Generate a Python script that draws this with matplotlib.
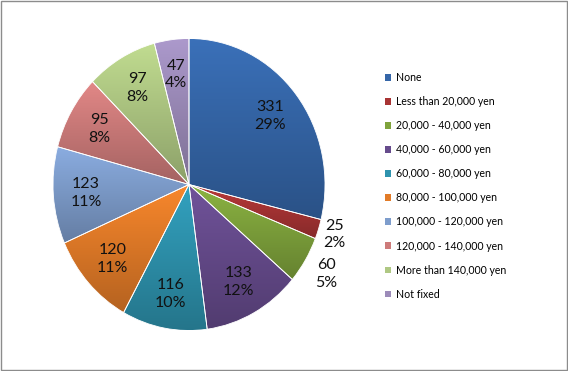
import numpy as np
import matplotlib
matplotlib.use('Agg')
from matplotlib import pyplot as plt
from matplotlib.colors import to_rgb
from matplotlib.patches import Patch

plt.rcParams['font.family'] = ['Lato', 'DejaVu Sans']

# 数据
categories = ['None', 'Less than 20,000 yen', '20,000 - 40,000 yen', '40,000 - 60,000 yen',
              '60,000 - 80,000 yen', '80,000 - 100,000 yen', '100,000 - 120,000 yen',
              '120,000 - 140,000 yen', 'More than 140,000 yen', 'Not fixed']
counts = [331, 25, 60, 133, 116, 120, 123, 95, 97, 47]
pct_labels = [29, 2, 5, 12, 10, 11, 11, 8, 8, 4]  # 图中显示的百分比
colors = ['#3566A8', '#A83434', '#7FA33C', '#664B8C', '#2E93AE',
          '#E27B28', '#7E9DCC', '#CD7B7A', '#AFC883', '#9C8BB9']
outside = [1, 2]  # 小扇区标签放在外面

fig = plt.figure(figsize=(5.68, 3.71), dpi=100)
fig.patch.set_facecolor('white')

ax = fig.add_axes([(189 - 136) / 568, 1 - (184.5 + 146) / 371, 272 / 568, 292 / 371])

label_iter = iter(zip(counts, pct_labels))


def fmt(pct):
    val, p = next(label_iter)
    return '%d\n%d%%' % (val, p)


wedges, texts, autotexts = ax.pie(counts, colors=colors, startangle=90, counterclock=False,
                                  autopct=fmt, pctdistance=0.76,
                                  wedgeprops=dict(edgecolor='white', linewidth=0.6),
                                  textprops=dict(fontsize=11.5, color='#111111', linespacing=1.35))
ax.set_aspect('auto')

# 扇区渐变填充（上亮下暗）
for w, c in zip(wedges, colors):
    t = np.deg2rad(np.linspace(w.theta1, w.theta2, 50))
    ys = np.concatenate([[0], np.sin(t)])
    y0, y1 = ys.min(), ys.max()
    base = np.array(to_rgb(c))
    top = np.clip(base * 1.1, 0, 1)
    bot = base * 0.8
    f = np.linspace(0, 1, 64)[:, None]
    grad = (top * (1 - f) + bot * f)[:, None, :]
    im = ax.imshow(grad, extent=(-1, 1, y0, y1), origin='upper', aspect='auto',
                   interpolation='bilinear', zorder=1)
    im.set_clip_path(w)
    w.set_facecolor('none')
    w.set_zorder(2)
for t in autotexts:
    t.set_zorder(3)
ax.set_xlim(-1, 1)
ax.set_ylim(-1, 1)

# 外侧标签
for i, d in zip(outside, [1.12, 1.18]):
    w = wedges[i]
    ang = np.deg2rad((w.theta1 + w.theta2) / 2)
    autotexts[i].set_position((d * np.cos(ang), d * np.sin(ang)))

handles = [Patch(facecolor=c, edgecolor='none') for c in colors]
ax.legend(handles, categories, loc='upper left', bbox_to_anchor=(1.205, 0.9),
          bbox_transform=ax.transAxes, frameon=False, fontsize=7.6,
          handlelength=0.6, handleheight=0.6, handletextpad=0.4,
          labelspacing=1.24, borderaxespad=0)

# 图表外框
fig.add_artist(plt.Rectangle((0.001, 0.002), 0.997, 0.995, transform=fig.transFigure,
                             fill=False, edgecolor='#8c8c8c', linewidth=1.0))

fig.savefig('out.png', dpi=100, facecolor='white')
